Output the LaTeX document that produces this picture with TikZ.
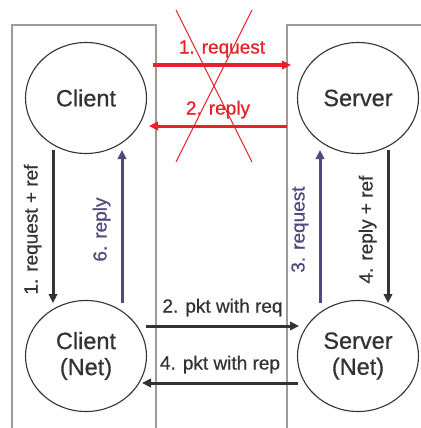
\documentclass[tikz,border=0pt]{standalone}
\usepackage{fontspec}
\setmainfont{Liberation Sans}[BoldFont=Liberation Sans, BoldFeatures={FakeBold=0.7}]
\usetikzlibrary{arrows.meta,shapes.geometric}
\definecolor{frame}{HTML}{A39A98}
\definecolor{ink}{HTML}{333333}
\definecolor{slate}{HTML}{4E4A7C}
\definecolor{alert}{HTML}{E8202A}
\tikzset{
  host/.style={draw=ink, line width=1.1pt, ellipse, minimum width=121pt, minimum height=111pt,
               text=ink, font=\fontsize{23.5}{26}\selectfont\bfseries, align=center, inner sep=0pt},
  lbl/.style={font=\fontsize{19}{21}\selectfont\bfseries, inner sep=0pt},
  flow/.style={line width=3pt, -{Triangle[length=9pt,width=8.5pt]}},
  box/.style={draw=frame, line width=1.4pt},
}
\begin{document}
\begin{tikzpicture}[x=1pt,y=-1pt]
\useasboundingbox (0,0) rectangle (420,428);
% host frames (open at the bottom)
\draw[box] (12,428) -- (12,25) -- (156,25) -- (156,428);
\draw[box] (287,428) -- (287,25) -- (425,25);
% hosts
\node[host] (client) at (86,98) {Client};
\node[host] (server) at (358,98) {Server};
\node[host] (cnet) at (86,356) {Client\\(Net)};
\node[host] (snet) at (358,356) {Server\\(Net)};
% direct exchange, crossed out
\coordinate (rq0) at (153,65);  \coordinate (rq1) at (291,65);
\coordinate (rp0) at (287,126); \coordinate (rp1) at (149,126);
\draw[flow, alert] (rq0) -- node[lbl, text=alert, above=6pt] {1. request} (rq1);
\draw[flow, alert] (rp0) -- node[lbl, text=alert, above=6pt] {2. reply} (rp1);
\coordinate (xa) at (176,10); \coordinate (xb) at (252,162);
\coordinate (xc) at (252,10); \coordinate (xd) at (176,162);
\draw[alert, line width=1pt] (xa) -- (xb) (xc) -- (xd);
% local hand-offs
\coordinate (c1t) at (53,150);  \coordinate (c1b) at (53,303);
\coordinate (c6t) at (122,150); \coordinate (c6b) at (122,303);
\coordinate (s3t) at (320,150); \coordinate (s3b) at (320,303);
\coordinate (s4t) at (388,150); \coordinate (s4b) at (388,303);
\draw[flow, ink] (c1t) -- node[lbl, text=ink, rotate=90, above=10pt, pos=0.52] {1. request + ref} (c1b);
\draw[flow, slate] (c6b) -- node[lbl, text=slate, rotate=90, above=10pt, pos=0.48] {6. reply} (c6t);
\draw[flow, slate] (s3b) -- node[lbl, text=slate, rotate=90, above=10pt, pos=0.48] {3. request} (s3t);
\draw[flow, ink] (s4t) -- node[lbl, text=ink, rotate=90, above=10pt, pos=0.52] {4. reply + ref} (s4b);
% network packets
\coordinate (p2a) at (146,326); \coordinate (p2b) at (299,326);
\coordinate (p4a) at (298,383); \coordinate (p4b) at (142,383);
\draw[flow, ink] (p2a) -- node[lbl, text=ink, above=8pt] {2. pkt with req} (p2b);
\draw[flow, ink] (p4a) -- node[lbl, text=ink, above=8pt] {4. pkt with rep} (p4b);
\end{tikzpicture}
\end{document}
